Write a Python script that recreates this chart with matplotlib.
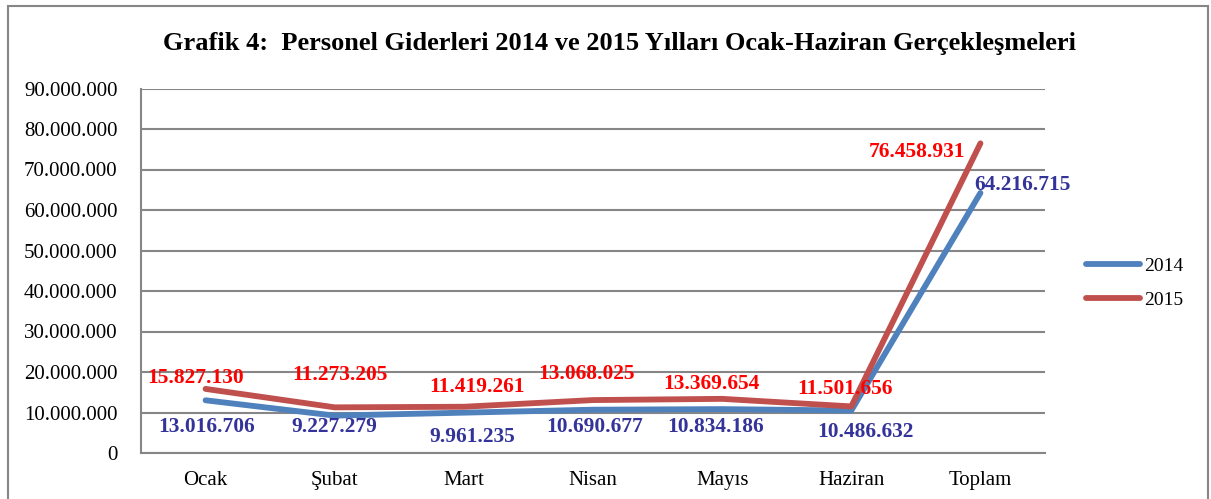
import matplotlib.pyplot as plt
from matplotlib.patches import Rectangle
from matplotlib.ticker import FuncFormatter

plt.rcParams['font.family'] = ['Liberation Serif', 'DejaVu Serif']

# data
months = ['Ocak', 'Şubat', 'Mart', 'Nisan', 'Mayıs', 'Haziran', 'Toplam']
vals_2014 = [13016706, 9227279, 9961235, 10690677, 10834186, 10486632, 64216715]
vals_2015 = [15827130, 11273205, 11419261, 13068025, 13369654, 11501656, 76458931]

# label offsets in pixels (dx, dy), hand-placed like in the original
off_2014 = [(1, -27), (0, -11), (8, -24), (2, -17), (-7, -18), (14, -21), (42, 8)]
off_2015 = [(-10, 11), (5, 32), (13, 20), (-7, 26), (-11, 15), (-6, 17), (-63, -9)]

W, H = 1211, 499
fig = plt.figure(figsize=(W / 100, H / 100), dpi=100)
ax = fig.add_axes([141 / W, (H - 453) / H, 904 / W, 364.5 / H])

x = range(len(months))
ax.plot(x, vals_2014, color='#4F81BD', lw=4.2, label='2014', solid_capstyle='round')
ax.plot(x, vals_2015, color='#C0504D', lw=4.2, label='2015', solid_capstyle='round')

for i, v in enumerate(vals_2014):
    ax.annotate(f'{v:,}'.replace(',', '.'), (i, v), xytext=off_2014[i],
                textcoords='offset pixels', ha='center', va='center',
                fontsize=15.4, fontweight='bold', color='#333399')
for i, v in enumerate(vals_2015):
    ax.annotate(f'{v:,}'.replace(',', '.'), (i, v), xytext=off_2015[i],
                textcoords='offset pixels', ha='center', va='center',
                fontsize=15.4, fontweight='bold', color='#FF0000')

ax.set_xlim(-0.5, 6.5)
ax.set_ylim(0, 90000000)
ax.set_yticks(range(0, 90000001, 10000000))
ax.yaxis.set_major_formatter(FuncFormatter(lambda v, p: f'{int(v):,}'.replace(',', '.')))
ax.set_xticks(list(x))
ax.set_xticklabels(months)
ax.tick_params(axis='both', length=0, labelsize=15)
ax.tick_params(axis='x', pad=13)
ax.tick_params(axis='y', pad=17)

ax.grid(axis='y', color='#868686', lw=1.5)
ax.set_axisbelow(True)
for s in ['top', 'right']:
    ax.spines[s].set_visible(False)
for s in ['left', 'bottom']:
    ax.spines[s].set_color('#868686')
    ax.spines[s].set_linewidth(1.5)

fig.text(620 / W, 1 - 50 / H,
         'Grafik 4:  Personel Giderleri 2014 ve 2015 Yılları Ocak-Haziran Gerçekleşmeleri',
         ha='center', va='baseline', fontsize=19, fontweight='bold')

fig.legend(loc='center left', bbox_to_anchor=(1086 / W, 1 - 283 / H),
           frameon=False, fontsize=14, handlelength=2.8, labelspacing=0.85,
           handletextpad=0.2, borderpad=0, borderaxespad=0)

fig.patches.append(Rectangle((8 / W, -0.05), 1200 / W, 1.05 - 6 / H,
                             transform=fig.transFigure, fill=False,
                             edgecolor='#868686', lw=1.5))

fig.savefig('out.png', dpi=100)
